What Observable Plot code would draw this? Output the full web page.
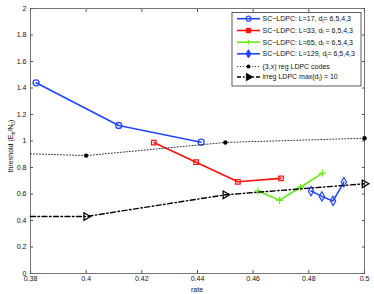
<!DOCTYPE html>
<html><head><meta charset="utf-8">
<script src="https://cdn.jsdelivr.net/npm/d3@7"></script>
<script src="https://cdn.jsdelivr.net/npm/@observablehq/plot@0.6"></script>
<style>body{margin:0;background:#fff}</style>
</head><body><div id="chart"></div>
<script>
// ---- data ----
const rate17 = [0.3820, 0.4117, 0.4413];
const thr17  = [1.439, 1.117, 0.991];
const rate33 = [0.4243, 0.4395, 0.4545, 0.4700];
const thr33  = [0.988, 0.840, 0.692, 0.718];
const rate65 = [0.4617, 0.4695, 0.4770, 0.4849];
const thr65  = [0.623, 0.553, 0.651, 0.757];
const rate129 = [0.4808, 0.4847, 0.4887, 0.4926];
const thr129  = [0.622, 0.582, 0.548, 0.690];
const regRate = [0.38, 0.40, 0.45, 0.50];      // first entry: line continues past left edge
const regThr  = [0.903, 0.890, 0.989, 1.021];
const irrRate = [0.38, 0.40, 0.45, 0.50];
const irrThr  = [0.430, 0.430, 0.594, 0.677];
const xTicks = [0.38, 0.40, 0.42, 0.44, 0.46, 0.48, 0.50];
const xTickLabels = ["0.38", "0.4", "0.42", "0.44", "0.46", "0.48", "0.5"];
const yTicks = [0, 0.2, 0.4, 0.6, 0.8, 1, 1.2, 1.4, 1.6, 1.8, 2];
const yTickLabels = ["0", "0.2", "0.4", "0.6", "0.8", "1", "1.2", "1.4", "1.6", "1.8", "2"];
const legendLabels = [
  ["SC−LDPC: L=17, d", "l", "= 6,5,4,3"],
  ["SC−LDPC: L=33, d", "l", " = 6,5,4,3"],
  ["SC−LDPC: L=65, d", "l", " = 6,5,4,3"],
  ["SC−LDPC: L=129, d", "l", "= 6,5,4,3"],
  ["(3,x) reg LDPC codes", "", ""],
  ["irreg LDPC max(d", "l", ") = 10"]
];

const BLUE = "#2346ff", RED = "#ff1010", GREEN = "#6be819", BLACK = "#000";
const zip = (xs, ys) => xs.map((x, i) => ({x, y: ys[i]}));
const s17 = zip(rate17, thr17), s33 = zip(rate33, thr33), s65 = zip(rate65, thr65),
      s129 = zip(rate129, thr129), sReg = zip(regRate, regThr), sIrr = zip(irrRate, irrThr);
const FONT = "'Liberation Sans', Arial, Helvetica, sans-serif";
const AX = "#555";

const svg = Plot.plot({
  width: 374, height: 294,
  marginLeft: 30, marginRight: 10, marginTop: 8, marginBottom: 21,
  x: {domain: [0.38, 0.5]},
  y: {domain: [0, 2]},
  style: {fontFamily: FONT, fontSize: "7px", background: "#fff", color: "#111"},
  marks: [
    Plot.frame({stroke: AX, strokeWidth: 0.8}),
    Plot.axisX(xTicks, {anchor: "bottom", tickSize: 0, tickPadding: 3, tickFormat: (d, i) => xTickLabels[i], label: null}),
    Plot.axisX(xTicks, {anchor: "bottom", tickSize: -3, tickFormat: () => "", label: null, stroke: AX}),
    Plot.axisX(xTicks, {anchor: "top", tickSize: -3, tickFormat: () => "", label: null, stroke: AX}),
    Plot.axisY(yTicks, {anchor: "left", tickSize: 0, tickPadding: 4, tickFormat: (d, i) => yTickLabels[i], label: null}),
    Plot.axisY(yTicks, {anchor: "left", tickSize: -3, tickFormat: () => "", label: null, stroke: AX}),
    Plot.axisY(yTicks, {anchor: "right", tickSize: -3, tickFormat: () => "", label: null, stroke: AX}),

    Plot.line(s17, {x: "x", y: "y", stroke: BLUE, strokeWidth: 1.6}),
    Plot.dot(s17, {x: "x", y: "y", r: 3, stroke: BLUE, strokeWidth: 1.3, fill: "none"}),
    Plot.line(s33, {x: "x", y: "y", stroke: RED, strokeWidth: 1.6}),
    Plot.dot(s33, {x: "x", y: "y", symbol: "square", r: 2.6, stroke: RED, strokeWidth: 1.2, fill: "none"}),
    Plot.line(s65, {x: "x", y: "y", stroke: GREEN, strokeWidth: 1.6}),
    Plot.dot(s65, {x: "x", y: "y", symbol: "plus", r: 2.4, stroke: GREEN, strokeWidth: 1.3}),
    Plot.line(s129, {x: "x", y: "y", stroke: BLUE, strokeWidth: 1.6}),
    Plot.dot(s129, {x: "x", y: "y", symbol: "diamond", r: 2.8, stroke: BLUE, strokeWidth: 1.2, fill: "none"}),

    Plot.line(sReg, {x: "x", y: "y", stroke: "#333", strokeWidth: 1, strokeDasharray: "1,2"}),
    Plot.dot(sReg.filter(d => d.x > 0.38), {x: "x", y: "y", r: 2.2, fill: BLACK}),
    Plot.line(sIrr, {x: "x", y: "y", stroke: BLACK, strokeWidth: 1.4, strokeDasharray: "5,2.5,1.5,2.5"}),
    Plot.dot(sIrr.filter(d => d.x > 0.38), {x: "x", y: "y", symbol: "triangle", rotate: 90, r: 2.8, stroke: BLACK, strokeWidth: 1.3, fill: "none"})
  ]
});

const root = d3.select(svg);
// axis titles
root.append("text").attr("x", 197).attr("y", 292).attr("text-anchor", "middle")
  .attr("font-family", FONT).attr("font-size", 7).attr("fill", "#111").text("rate");
const yl = root.append("text").attr("transform", "translate(13,146) rotate(-90)")
  .attr("text-anchor", "middle").attr("font-family", FONT).attr("font-size", 7).attr("fill", "#111");
yl.append("tspan").text("threshold (E");
yl.append("tspan").attr("font-size", 5).attr("dy", 1.5).text("b");
yl.append("tspan").attr("dy", -1.5).text("/N");
yl.append("tspan").attr("font-size", 5).attr("dy", 1.5).text("0");
yl.append("tspan").attr("dy", -1.5).text(")");

// legend
const lg = root.append("g").attr("font-family", FONT).attr("font-size", 7)
  .attr("fill", "#111").attr("text-anchor", "start");
lg.append("rect").attr("x", 232).attr("y", 12.5).attr("width", 129).attr("height", 73.5)
  .style("fill", "#ffffff").style("stroke", "#333").style("stroke-width", "0.8px");
const rowsY = [18.7, 30.5, 42.2, 53.8, 66.5, 77];
const styles = [
  {stroke: BLUE, w: 1.6, dash: null, sym: d3.symbolCircle, size: 20, fill: "none", sw: 1.2},
  {stroke: RED, w: 1.6, dash: null, sym: d3.symbolSquare, size: 20, fill: RED, sw: 1},
  {stroke: GREEN, w: 1.6, dash: null, plus: true, sw: 1.2},
  {stroke: BLUE, w: 1.6, dash: null, sym: d3.symbolDiamond, size: 20, fill: BLUE, sw: 1},
  {stroke: "#333", w: 1, dash: "1,2", sym: d3.symbolCircle, size: 13, fill: BLACK, sw: 0},
  {stroke: BLACK, w: 1.4, dash: "4,2,1.5,2", sym: d3.symbolTriangle, size: 24, fill: BLACK, sw: 0.8, rot: 90}
];
rowsY.forEach((y, i) => {
  const s = styles[i];
  lg.append("line").attr("x1", 237).attr("x2", 260).attr("y1", y).attr("y2", y)
    .attr("stroke", s.stroke).attr("stroke-width", s.w).attr("stroke-dasharray", s.dash);
  if (s.plus) {
    lg.append("path").attr("d", `M${248.5-2.3},${y}H${248.5+2.3}M248.5,${y-2.3}V${y+2.3}`)
      .attr("fill", "none").attr("stroke", s.stroke).attr("stroke-width", s.sw);
  } else {
    lg.append("path").attr("d", d3.symbol(s.sym, s.size)())
      .attr("transform", `translate(248.5,${y})` + (s.rot ? ` rotate(${s.rot})` : ""))
      .attr("fill", s.fill).attr("stroke", s.sw ? s.stroke : "none").attr("stroke-width", s.sw);
  }
  const t = lg.append("text").attr("x", 262.5).attr("y", y).attr("dy", "0.35em").attr("text-anchor", "start");
  const [a, sub, b] = legendLabels[i];
  t.append("tspan").text(a);
  if (sub) {
    t.append("tspan").attr("font-size", 5).attr("dy", 1.5).text(sub);
    t.append("tspan").attr("dy", -1.5).text(b);
  }
});

document.getElementById("chart").appendChild(svg);
</script>
</body></html>
